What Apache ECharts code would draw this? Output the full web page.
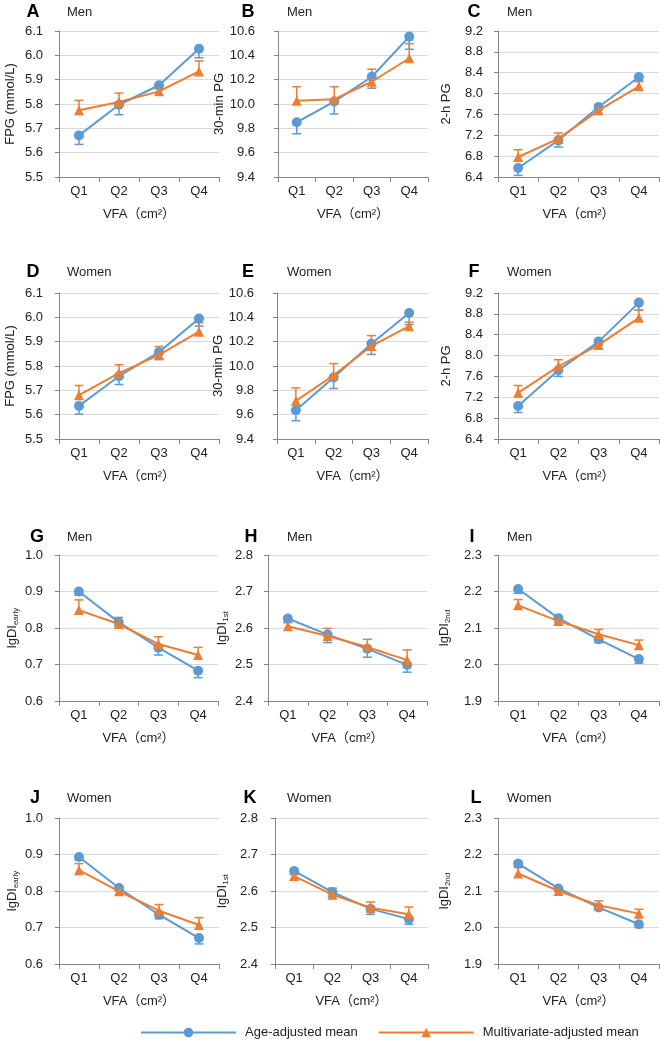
<!DOCTYPE html>
<html>
<head>
<meta charset="utf-8">
<script src="https://cdn.jsdelivr.net/npm/echarts@6/dist/echarts.min.js"></script>
<style>
html,body{margin:0;padding:0;background:#fff;}
#chart{width:660px;height:1050px;}
</style>
</head>
<body>
<div id="chart"></div>
<script>
// ---------- DATA ----------
const quartiles = ['Q1', 'Q2', 'Q3', 'Q4'];

// A: FPG, men
const fpgMenAge = [5.671, 5.797, 5.877, 6.027];
const fpgMenAgeLow = [5.634, 5.756, 5.864, 5.990];
const fpgMenMulti = [5.774, 5.808, 5.852, 5.934];
const fpgMenMultiHigh = [5.815, 5.845, 5.863, 5.977];
// B: 30-min PG, men
const pg30MenAge = [9.85, 10.02, 10.224, 10.554];
const pg30MenAgeLow = [9.755, 9.918, 10.13, 10.45];
const pg30MenMulti = [10.027, 10.04, 10.183, 10.376];
const pg30MenMultiHigh = [10.142, 10.142, 10.286, 10.496];
// C: 2-h PG, men
const pg2hMenAge = [6.573, 7.103, 7.743, 8.318];
const pg2hMenAgeLow = [6.43, 6.975, 7.69, 8.25];
const pg2hMenMulti = [6.784, 7.135, 7.679, 8.14];
const pg2hMenMultiHigh = [6.924, 7.244, 7.794, 8.23];
// D: FPG, women
const fpgWomenAge = [5.636, 5.758, 5.857, 5.995];
const fpgWomenAgeLow = [5.602, 5.724, 5.826, 5.964];
const fpgWomenMulti = [5.68, 5.771, 5.846, 5.941];
const fpgWomenMultiHigh = [5.72, 5.805, 5.88, 5.978];
// E: 30-min PG, women
const pg30WomenAge = [9.637, 9.905, 10.183, 10.436];
const pg30WomenAgeLow = [9.55, 9.815, 10.095, 10.34];
const pg30WomenMulti = [9.713, 9.924, 10.164, 10.327];
const pg30WomenMultiHigh = [9.82, 10.02, 10.25, 10.36];
// F: 2-h PG, women
const pg2hWomenAge = [7.033, 7.717, 8.268, 9.016];
const pg2hWomenAgeLow = [6.907, 7.6, 8.2, 8.87];
const pg2hWomenMulti = [7.286, 7.793, 8.205, 8.724];
const pg2hWomenMultiHigh = [7.426, 7.92, 8.3, 8.87];
// G: lgDIearly, men
const diEarlyMenAge = [0.900, 0.816, 0.746, 0.683];
const diEarlyMenAgeLow = [0.89, 0.805, 0.726, 0.664];
const diEarlyMenMulti = [0.849, 0.811, 0.756, 0.726];
const diEarlyMenMultiHigh = [0.877, 0.829, 0.776, 0.747];
// H: lgDI1st, men
const di1stMenAge = [2.626, 2.582, 2.543, 2.499];
const di1stMenAgeLow = [2.615, 2.56, 2.52, 2.479];
const di1stMenMulti = [2.605, 2.578, 2.548, 2.512];
const di1stMenMultiHigh = [2.615, 2.599, 2.569, 2.54];
// I: lgDI2nd, men
const di2ndMenAge = [2.207, 2.127, 2.069, 2.015];
const di2ndMenAgeLow = [2.195, 2.115, 2.06, 2.003];
const di2ndMenMulti = [2.162, 2.119, 2.083, 2.053];
const di2ndMenMultiHigh = [2.178, 2.13, 2.096, 2.067];
// J: lgDIearly, women
const diEarlyWomenAge = [0.893, 0.808, 0.735, 0.671];
const diEarlyWomenAgeLow = [0.885, 0.8, 0.724, 0.655];
const diEarlyWomenMulti = [0.857, 0.799, 0.746, 0.707];
const diEarlyWomenMultiHigh = [0.875, 0.81, 0.763, 0.727];
// K: lgDI1st, women
const di1stWomenAge = [2.655, 2.597, 2.551, 2.523];
const di1stWomenAgeLow = [2.645, 2.585, 2.536, 2.509];
const di1stWomenMulti = [2.641, 2.59, 2.554, 2.536];
const di1stWomenMultiHigh = [2.65, 2.608, 2.57, 2.556];
// L: lgDI2nd, women
const di2ndWomenAge = [2.175, 2.107, 2.055, 2.009];
const di2ndWomenAgeLow = [2.168, 2.1, 2.047, 2.0];
const di2ndWomenMulti = [2.148, 2.1, 2.061, 2.038];
const di2ndWomenMultiHigh = [2.164, 2.11, 2.073, 2.05];

const seriesNames = ['Age-adjusted mean', 'Multivariate-adjusted mean'];
const xAxisTitle = 'VFA（cm²）';

const panels = [
  {letter: 'A', sex: 'Men', yName: 'FPG (mmol/L)', age: fpgMenAge, ageErr: fpgMenAgeLow, multi: fpgMenMulti, multiErr: fpgMenMultiHigh, min: 5.5, max: 6.1, interval: 0.1},
  {letter: 'B', sex: 'Men', yName: '30-min PG', age: pg30MenAge, ageErr: pg30MenAgeLow, multi: pg30MenMulti, multiErr: pg30MenMultiHigh, min: 9.4, max: 10.6, interval: 0.2},
  {letter: 'C', sex: 'Men', yName: '2-h PG', age: pg2hMenAge, ageErr: pg2hMenAgeLow, multi: pg2hMenMulti, multiErr: pg2hMenMultiHigh, min: 6.4, max: 9.2, interval: 0.4},
  {letter: 'D', sex: 'Women', yName: 'FPG (mmol/L)', age: fpgWomenAge, ageErr: fpgWomenAgeLow, multi: fpgWomenMulti, multiErr: fpgWomenMultiHigh, min: 5.5, max: 6.1, interval: 0.1},
  {letter: 'E', sex: 'Women', yName: '30-min PG', age: pg30WomenAge, ageErr: pg30WomenAgeLow, multi: pg30WomenMulti, multiErr: pg30WomenMultiHigh, min: 9.4, max: 10.6, interval: 0.2},
  {letter: 'F', sex: 'Women', yName: '2-h PG', age: pg2hWomenAge, ageErr: pg2hWomenAgeLow, multi: pg2hWomenMulti, multiErr: pg2hWomenMultiHigh, min: 6.4, max: 9.2, interval: 0.4},
  {letter: 'G', sex: 'Men', yName: '{a|lgDI}{s|early}', age: diEarlyMenAge, ageErr: diEarlyMenAgeLow, multi: diEarlyMenMulti, multiErr: diEarlyMenMultiHigh, min: 0.6, max: 1.0, interval: 0.1},
  {letter: 'H', sex: 'Men', yName: '{a|lgDI}{s|1st}', age: di1stMenAge, ageErr: di1stMenAgeLow, multi: di1stMenMulti, multiErr: di1stMenMultiHigh, min: 2.4, max: 2.8, interval: 0.1},
  {letter: 'I', sex: 'Men', yName: '{a|lgDI}{s|2nd}', age: di2ndMenAge, ageErr: di2ndMenAgeLow, multi: di2ndMenMulti, multiErr: di2ndMenMultiHigh, min: 1.9, max: 2.3, interval: 0.1},
  {letter: 'J', sex: 'Women', yName: '{a|lgDI}{s|early}', age: diEarlyWomenAge, ageErr: diEarlyWomenAgeLow, multi: diEarlyWomenMulti, multiErr: diEarlyWomenMultiHigh, min: 0.6, max: 1.0, interval: 0.1},
  {letter: 'K', sex: 'Women', yName: '{a|lgDI}{s|1st}', age: di1stWomenAge, ageErr: di1stWomenAgeLow, multi: di1stWomenMulti, multiErr: di1stWomenMultiHigh, min: 2.4, max: 2.8, interval: 0.1},
  {letter: 'L', sex: 'Women', yName: '{a|lgDI}{s|2nd}', age: di2ndWomenAge, ageErr: di2ndWomenAgeLow, multi: di2ndWomenMulti, multiErr: di2ndWomenMultiHigh, min: 1.9, max: 2.3, interval: 0.1}
];

// ---------- LAYOUT ----------
const gridLeft = [[59, 278, 498], [59, 277, 498], [59, 268, 498], [59, 275, 498]];
const gridWidth = [[160, 150, 161], [160, 151, 161], [159, 159, 161], [160, 153, 161]];
const gridTop = [31, 293, 555, 818];
const gridHeight = 146;
const letterX = [[33, 248, 474], [33, 248, 474], [37, 251, 472], [35, 250, 476]];
const letterY = [12, 272, 537, 798];
const sexX = [67, 287, 507];
const yNameGap = [[42, 50, 45], [42, 50, 45], [39, 38, 46], [39, 45, 46]];
const yLabelMargin = [[16, 23, 15], [16, 23, 15], [16, 15, 16], [16, 17, 16]];

const BLUE = '#5B9BD5';
const ORANGE = '#ED7D31';
const FONT = '"Liberation Sans", Arial, "Noto Sans CJK SC", sans-serif';
const TXT = '#222';

function errRender(color) {
  return function (params, api) {
    const x = api.value(0);
    const p1 = api.coord([x, api.value(1)]);
    const p2 = api.coord([x, api.value(2)]);
    return {
      type: 'group',
      children: [
        {type: 'line', shape: {x1: p1[0], y1: p1[1], x2: p2[0], y2: p2[1]}, style: {stroke: color, lineWidth: 1.5}},
        {type: 'line', shape: {x1: p2[0] - 4.5, y1: p2[1], x2: p2[0] + 4.5, y2: p2[1]}, style: {stroke: color, lineWidth: 1.5}}
      ]
    };
  };
}

const grids = [], xAxes = [], yAxes = [], series = [], graphics = [];
panels.forEach(function (p, i) {
  const r = Math.floor(i / 3), c = i % 3;
  grids.push({left: gridLeft[r][c], top: gridTop[r], width: gridWidth[r][c], height: gridHeight, containLabel: false});
  xAxes.push({
    type: 'category', gridIndex: i, data: quartiles, boundaryGap: true,
    axisLine: {lineStyle: {color: '#868686', width: 1}},
    axisTick: {show: true, length: 5, lineStyle: {color: '#868686'}},
    axisLabel: {fontSize: 13, color: TXT, fontFamily: FONT, margin: 8},
    name: xAxisTitle, nameLocation: 'middle', nameGap: 31,
    nameTextStyle: {fontSize: 13, color: TXT, fontFamily: FONT}
  });
  yAxes.push({
    type: 'value', gridIndex: i, min: p.min, max: p.max, interval: p.interval,
    axisLine: {show: true, lineStyle: {color: '#868686', width: 1}},
    axisTick: {show: true, length: 4, lineStyle: {color: '#868686'}},
    splitLine: {lineStyle: {color: '#d9d9d9', width: 1}},
    axisLabel: {fontSize: 13, color: TXT, fontFamily: FONT, margin: yLabelMargin[r][c], formatter: function (v) { return v.toFixed(1); }},
    name: p.yName, nameLocation: 'middle', nameRotate: 90, nameGap: yNameGap[r][c],
    nameTextStyle: {
      fontSize: 13, color: TXT, fontFamily: FONT,
      rich: {
        a: {fontSize: 13, color: TXT, fontFamily: FONT, lineHeight: 16},
        s: {fontSize: 8, color: TXT, fontFamily: FONT, lineHeight: 8, verticalAlign: 'bottom'}
      }
    }
  });
  series.push({
    type: 'custom', name: 'ageErr' + i, xAxisIndex: i, yAxisIndex: i, z: 1,
    renderItem: errRender(BLUE), encode: {x: 0, y: [1, 2]},
    data: p.age.map(function (v, j) { return [j, v, p.ageErr[j]]; })
  });
  series.push({
    type: 'custom', name: 'multiErr' + i, xAxisIndex: i, yAxisIndex: i, z: 1,
    renderItem: errRender(ORANGE), encode: {x: 0, y: [1, 2]},
    data: p.multi.map(function (v, j) { return [j, v, p.multiErr[j]]; })
  });
  series.push({
    type: 'line', name: seriesNames[0], xAxisIndex: i, yAxisIndex: i, z: 2,
    data: p.age, symbol: 'circle', symbolSize: 10,
    lineStyle: {color: BLUE, width: 2}, itemStyle: {color: BLUE}
  });
  series.push({
    type: 'line', name: seriesNames[1], xAxisIndex: i, yAxisIndex: i, z: 3,
    data: p.multi, symbol: 'triangle', symbolSize: 10,
    lineStyle: {color: ORANGE, width: 2}, itemStyle: {color: ORANGE}
  });
  graphics.push({
    type: 'text', x: letterX[r][c], y: letterY[r],
    style: {text: p.letter, font: 'bold 18px ' + FONT, fill: '#000', align: 'center', verticalAlign: 'middle'}
  });
  graphics.push({
    type: 'text', x: sexX[c], y: letterY[r],
    style: {text: p.sex, font: '13px ' + FONT, fill: TXT, align: 'left', verticalAlign: 'middle'}
  });
});

const chart = echarts.init(document.getElementById('chart'), null, {renderer: 'canvas'});
chart.setOption({
  animation: false,
  backgroundColor: '#fff',
  grid: grids,
  xAxis: xAxes,
  yAxis: yAxes,
  series: series,
  graphic: {elements: graphics},
  legend: {
    data: seriesNames, left: 135, top: 1021, itemWidth: 95, itemHeight: 12, itemGap: 20,
    textStyle: {fontSize: 13, color: TXT, fontFamily: FONT, padding: [0, 0, 0, 4]}
  }
});
</script>
</body>
</html>
